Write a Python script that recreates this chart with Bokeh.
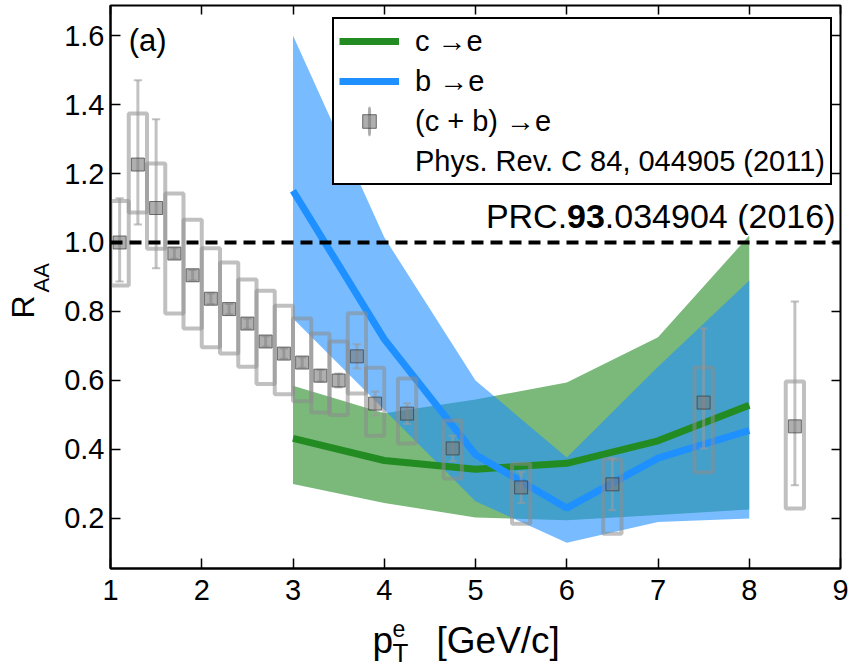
import numpy as np
from bokeh.plotting import figure
from bokeh.layouts import column, row
from bokeh.models import (Range1d, LinearAxis, FixedTicker, Label, Legend, LegendItem,
                          Span, NumeralTickFormatter)
from bokeh.embed import file_html
from bokeh.resources import INLINE

# ---------------- data ----------------
x_ticks = [1, 2, 3, 4, 5, 6, 7, 8, 9]
y_ticks = [0.2, 0.4, 0.6, 0.8, 1.0, 1.2, 1.4, 1.6]

# model curves
x_model = [3, 4, 5, 6, 7, 8]
c_mid = [0.432, 0.368, 0.343, 0.360, 0.425, 0.528]
c_lo = [0.300, 0.245, 0.203, 0.195, 0.210, 0.226]
c_hi = [0.585, 0.505, 0.545, 0.594, 0.725, 1.020]
b_mid = [1.150, 0.720, 0.385, 0.230, 0.375, 0.455]
b_lo = [0.780, 0.515, 0.250, 0.130, 0.190, 0.200]
b_hi = [1.600, 1.015, 0.600, 0.377, 0.640, 0.890]

# PHENIX (c+b)->e data
x_pts = [1.1, 1.3, 1.5, 1.7, 1.9, 2.1, 2.3, 2.5, 2.7, 2.9, 3.1, 3.3, 3.5, 3.7, 3.9,
         4.25, 4.75, 5.5, 6.5, 7.5, 8.5]
y_pts = [1.000, 1.226, 1.100, 0.968, 0.905, 0.837, 0.807, 0.765, 0.713, 0.678, 0.652,
         0.614, 0.600, 0.670, 0.533, 0.504, 0.403, 0.290, 0.299, 0.536, 0.467]
stat_hi = [1.128, 1.470, 1.357, 0.983, 0.920, 0.852, 0.822, 0.780, 0.728, 0.693, 0.667,
           0.631, 0.620, 0.705, 0.568, 0.534, 0.440, 0.335, 0.374, 0.751, 0.829]
stat_lo = [0.887, 1.052, 0.925, 0.953, 0.890, 0.822, 0.792, 0.750, 0.698, 0.663, 0.637,
           0.597, 0.580, 0.635, 0.498, 0.474, 0.366, 0.245, 0.224, 0.403, 0.296]
sys_hi = [1.120, 1.374, 1.229, 1.142, 1.066, 0.983, 0.942, 0.893, 0.860, 0.817, 0.780,
          0.736, 0.713, 0.795, 0.637, 0.606, 0.484, 0.359, 0.371, 0.638, 0.597]
sys_lo = [0.875, 1.087, 0.982, 0.794, 0.751, 0.696, 0.678, 0.640, 0.590, 0.560, 0.540,
          0.507, 0.500, 0.562, 0.440, 0.417, 0.316, 0.185, 0.156, 0.334, 0.229]

legend_labels = ["c \u2192e", "b \u2192e", "(c + b) \u2192e",
                 "Phys. Rev. C 84, 044905 (2011)"]

FONT = "Liberation Sans"
MAIN_H = 615          # height of the main plot (frame 5..568)
BORDER_B = MAIN_H - 568

# ---------------- main figure ----------------
p = figure(width=795, height=MAIN_H, output_backend="svg", toolbar_location=None,
           x_range=Range1d(1, 9), y_range=Range1d(0.055, 1.687),
           min_border_left=55, min_border_right=10, min_border_top=5,
           min_border_bottom=BORDER_B)
p.xgrid.visible = False
p.ygrid.visible = False
p.outline_line_color = "black"
p.outline_line_width = 2
p.background_fill_color = "white"
p.border_fill_color = "white"

for ax, ticks in ((p.xaxis[0], x_ticks), (p.yaxis[0], y_ticks)):
    ax.ticker = FixedTicker(ticks=ticks)
    ax.major_tick_in = 10
    ax.major_tick_out = 0
    ax.minor_tick_line_color = None
    ax.axis_line_width = 2
    ax.major_tick_line_width = 1.5
    ax.major_label_text_font = FONT
    ax.major_label_text_font_size = "29px"
    ax.major_label_text_color = "black"
p.yaxis[0].formatter = NumeralTickFormatter(format="0.0")
p.xaxis[0].major_label_standoff = 11
p.yaxis[0].major_label_standoff = 6

# tick marks on the top and right edges (no labels)
for side, ticks in (("above", x_ticks), ("right", y_ticks)):
    ax = LinearAxis(ticker=FixedTicker(ticks=ticks), major_label_text_font_size="1px",
                    major_label_text_color=None, axis_line_color=None,
                    major_tick_in=9, major_tick_out=0, minor_tick_line_color=None,
                    major_label_standoff=0, major_tick_line_width=1.5)
    p.add_layout(ax, side)

# ---------------- model bands & lines ----------------
p.varea(x=x_model, y1=c_lo, y2=c_hi, fill_color="forestgreen", fill_alpha=0.6)
p.varea(x=x_model, y1=b_lo, y2=b_hi, fill_color="dodgerblue", fill_alpha=0.6)

p.add_layout(Span(location=1.0, dimension="width", line_color="black",
                  line_width=4, line_dash="12 7"))

r_c = p.line(x_model, c_mid, line_color="forestgreen", line_width=7)
r_b = p.line(x_model, b_mid, line_color="dodgerblue", line_width=7)

# ---------------- data points ----------------
sys_mid = [(a + b) / 2 for a, b in zip(sys_lo, sys_hi)]
sys_h = [b - a for a, b in zip(sys_lo, sys_hi)]
p.rect(x=x_pts, y=sys_mid, width=0.2, height=sys_h, fill_color=None,
       line_color="#8c8c8c", line_alpha=0.55, line_width=4)
p.segment(x0=x_pts, y0=stat_lo, x1=x_pts, y1=stat_hi, line_color="#9a9a9a",
          line_alpha=0.6, line_width=3)
p.segment(x0=[x - 0.045 for x in x_pts], y0=stat_lo, x1=[x + 0.045 for x in x_pts],
          y1=stat_lo, line_color="#9a9a9a", line_alpha=0.6, line_width=2)
p.segment(x0=[x - 0.045 for x in x_pts], y0=stat_hi, x1=[x + 0.045 for x in x_pts],
          y1=stat_hi, line_color="#9a9a9a", line_alpha=0.6, line_width=2)
r_pts = p.scatter(x_pts, y_pts, marker="square", size=13, fill_color="#7a7a7a",
                  fill_alpha=0.6, line_color="#3a3a3a", line_alpha=0.7, line_width=1)
# legend-only vertical error bar (thin ellipse, not drawn in the plot: NaN position)
r_leg_bar = p.ellipse(x=[float("nan")], y=[float("nan")], width=0.3, height=40,
                      width_units="screen", height_units="screen", fill_color=None,
                      line_color="#9a9a9a", line_alpha=0.8, line_width=3)
# legend-only invisible glyph for the reference line of the data entry
r_leg_none = p.scatter(x=[float("nan")], y=[float("nan")], marker="square", size=1,
                       fill_alpha=0, line_alpha=0)

# ---------------- legend ----------------
legend = Legend(items=[
    LegendItem(label=legend_labels[0], renderers=[r_c]),
    LegendItem(label=legend_labels[1], renderers=[r_b]),
    LegendItem(label=legend_labels[2], renderers=[r_leg_bar, r_pts]),
    LegendItem(label=legend_labels[3], renderers=[r_leg_none]),
], location=(222, 383))
legend.border_line_color = "black"
legend.border_line_alpha = 1.0
legend.border_line_width = 2.5
legend.background_fill_color = "white"
legend.background_fill_alpha = 1.0
legend.label_text_font = FONT
legend.label_text_font_size = "29px"
legend.label_text_color = "black"
legend.glyph_width = 60
legend.glyph_height = 34
legend.label_standoff = 16
legend.spacing = 6
legend.padding = 5
legend.margin = 0
p.add_layout(legend)

# ---------------- in-plot labels ----------------
def lab(fig, x, y, text, size, **kw):
    fig.add_layout(Label(x=x, y=y, text=text, text_font=FONT, text_font_size=size,
                         text_baseline="middle", text_color="black", **kw))

lab(p, 1.2, 1.586, "(a)", "31px")
lab(p, 6.004, 1.076, "PRC.", "34px", text_align="right")
lab(p, 6.417, 1.076, "93", "34px", text_font_style="bold", text_align="right")
lab(p, 8.945, 1.076, ".034904 (2016)", "34px", text_align="right")

# ---------------- y-axis title panel (frame aligned with the main frame) ----------------
ylab = figure(width=55, height=MAIN_H, output_backend="svg", toolbar_location=None,
              x_range=Range1d(0, 55), y_range=Range1d(0, 563),
              x_axis_location=None, y_axis_location=None,
              min_border_left=0, min_border_right=0, min_border_top=5,
              min_border_bottom=BORDER_B)
ylab.outline_line_color = None
ylab.grid.visible = False
lab(ylab, 22, 568 - 318, "R", "32px", angle=np.pi / 2)
lab(ylab, 41, 568 - 292, "AA", "22px", angle=np.pi / 2)

# ---------------- x-axis title panel ----------------
XH = 666 - MAIN_H
xlab = figure(width=850, height=XH, output_backend="svg", toolbar_location=None,
              x_range=Range1d(0, 850), y_range=Range1d(0, XH),
              x_axis_location=None, y_axis_location=None, min_border=0)
xlab.outline_line_color = None
xlab.grid.visible = False
lab(xlab, 372, 666 - 640, "p", "37px")
lab(xlab, 392, 666 - 628, "e", "23px")
lab(xlab, 392, 666 - 652, "T", "26px")
lab(xlab, 436, 666 - 640, "[GeV/c]", "37px")

layout = column(row(ylab, p, spacing=0), xlab, spacing=0)
open("out.html", "w").write(file_html(layout, INLINE))
